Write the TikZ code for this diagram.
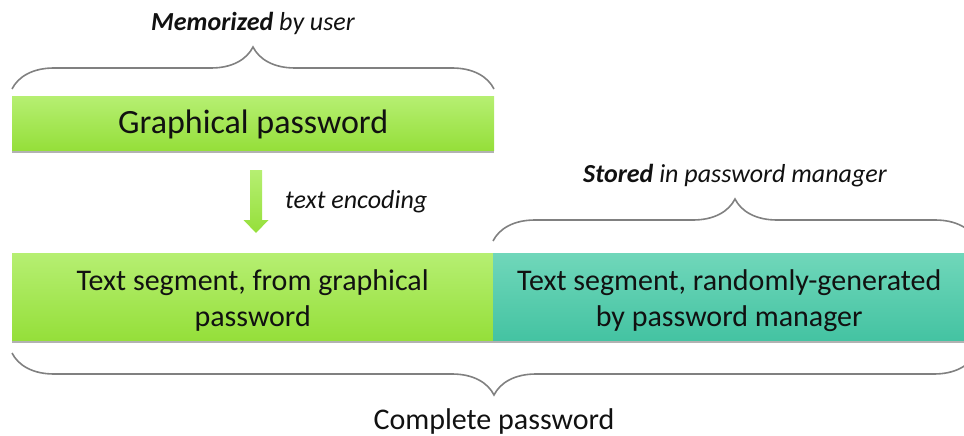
\documentclass[tikz,border=0pt]{standalone}
\usepackage{fontspec}
\setmainfont{Carlito}
\usetikzlibrary{decorations.pathreplacing,shadows}
\definecolor{grtop}{HTML}{B6EF72}
\definecolor{grmid}{HTML}{A7EE4C}
\definecolor{grbot}{HTML}{95DF3A}
\definecolor{tltop}{HTML}{70D7BA}
\definecolor{tlmid}{HTML}{55CFAE}
\definecolor{tlbot}{HTML}{44C3A2}
\definecolor{brgray}{HTML}{808080}
\definecolor{txt}{HTML}{111111}
\tikzset{
  softshadow/.style={drop shadow={shadow xshift=0pt, shadow yshift=-3pt, opacity=0.3, fill=black}},
  greenbox/.style={rectangle, inner sep=0pt, top color=grtop, middle color=grmid, bottom color=grbot, text=txt, softshadow},
  tealbox/.style={rectangle, inner sep=0pt, top color=tltop, middle color=tlmid, bottom color=tlbot, text=txt, softshadow},
  bracestyle/.style={draw=brgray, line width=1.6pt, decorate, decoration={brace, amplitude=42pt}},
  labeltext/.style={inner sep=0pt, text=txt, font=\fontsize{26}{30}\selectfont\itshape},
  boxtext/.style={inner sep=0pt, text=txt, font=\fontsize{30}{36}\selectfont, align=center},
}
\begin{document}
\begin{tikzpicture}[x=1pt, y=-1pt]
\useasboundingbox (0,0) rectangle (964,436);
% top box
\node[greenbox, minimum width=482pt, minimum height=54pt, anchor=north west] (gp) at (12,96) {};
\node[inner sep=0pt, text=txt, font=\fontsize{34}{40}\selectfont] (gpt) at ([yshift=-1pt]gp.center) {Graphical password};
% bottom boxes
\node[greenbox, minimum width=481pt, minimum height=87pt, anchor=north west] (ts1) at (12,253) {};
\node[tealbox, minimum width=472pt, minimum height=87pt, anchor=north west] (ts2) at (493,253) {};
\node[boxtext] (ts1t) at ([yshift=-3.5pt]ts1.center) {Text segment, from graphical\\password};
\node[boxtext] (ts2t) at ([yshift=-3.5pt]ts2.center) {Text segment, randomly-generated\\by password manager};
% labels
\node[labeltext] (mem) at (253,23) {\textbf{Memorized} by user};
\node[labeltext, anchor=west] (enc) at (285,202) {text encoding};
\node[labeltext] (sto) at (735,176) {\textbf{Stored} in password manager};
\node[inner sep=0pt, text=txt, font=\fontsize{30}{35}\selectfont] (cp) at (494,421) {Complete password};
% braces
\coordinate (b1a) at (12,89);
\coordinate (b1b) at (494,89);
\draw[bracestyle] (b1a) -- (b1b);
\coordinate (b2a) at (493,241);
\coordinate (b2b) at (977,241);
\draw[bracestyle] (b2a) -- (b2b);
\coordinate (b3a) at (12,353);
\coordinate (b3b) at (976,353);
\draw[bracestyle, decoration={brace, amplitude=42pt, mirror}] (b3a) -- (b3b);
% arrow
\coordinate (ar1) at (250,170);
\coordinate (ar2) at (262,170);
\coordinate (ar3) at (262,220);
\coordinate (ar4) at (268.5,220);
\coordinate (ar5) at (256,233);
\coordinate (ar6) at (243.5,220);
\coordinate (ar7) at (250,220);
\path[top color=grtop, bottom color=grbot] (ar1) -- (ar2) -- (ar3) -- (ar4) -- (ar5) -- (ar6) -- (ar7) -- cycle;
\end{tikzpicture}
\end{document}
